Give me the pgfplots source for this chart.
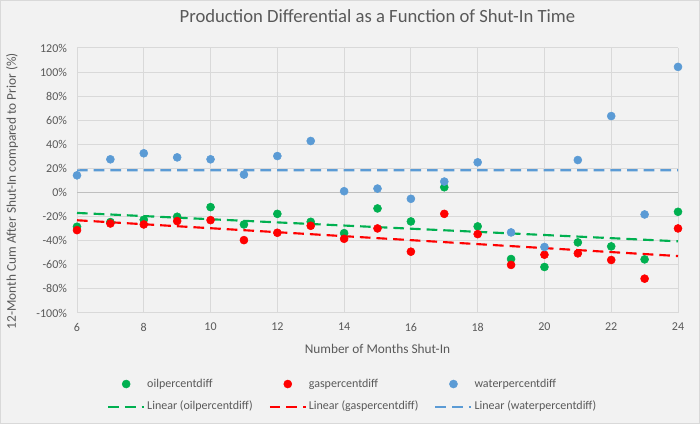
\documentclass[border=0pt]{standalone}
\usepackage{pgfplots}
\usepackage{pgfplotstable}
\pgfplotsset{compat=1.18}
\usepackage{fontspec}
\setmainfont{Carlito}
\definecolor{oilc}{HTML}{00B050}
\definecolor{gasc}{HTML}{FF0000}
\definecolor{waterc}{HTML}{5B9BD5}
\definecolor{txt}{HTML}{595959}
\definecolor{bg}{HTML}{F2F2F2}
\definecolor{gridc}{HTML}{D9D9D9}
\definecolor{zeroc}{HTML}{BFBFBF}

\pgfplotstableread{
x oil gas water
6 -28.4 -31.2 14.3
7 -24.5 -25.7 27.6
8 -22.6 -26.5 32.6
9 -20.1 -23.7 29.2
10 -12.1 -22.9 27.6
11 -26.5 -39.5 14.9
12 -17.7 -33.4 30.3
13 -24.3 -27.6 42.8
14 -33.7 -38.4 1.1
15 -13.2 -29.8 3.3
16 -24.0 -49.1 -5.2
17 4.4 -17.7 9.1
18 -28.1 -34.5 25.1
19 -55.2 -60.1 -33.1
20 -61.8 -51.6 -45.2
21 -41.4 -50.5 27.0
22 -44.7 -56.0 63.5
23 -55.5 -71.5 -18.2
24 -16.0 -29.8 104.3
}\data

\begin{document}
\begin{tikzpicture}
\fill[bg] (0,0) rectangle (525pt,318pt);
\draw[gridc] (0.5pt,0.5pt) rectangle (524.5pt,317.5pt);
\path[use as bounding box] (0,0) rectangle (525pt,318pt);
\begin{axis}[
  at={(57.75pt,83.25pt)}, anchor=south west,
  scale only axis, width=450.75pt, height=198.75pt,
  xmin=6, xmax=24, ymin=-100, ymax=120,
  xtick={6,8,...,24}, ytick={-100,-80,...,120},
  /pgf/number format/assume math mode=true,
  yticklabel={\pgfmathprintnumber{\tick}\%},
  axis line style={draw=none},
  major tick length=0pt,
  grid=major,
  major grid style={gridc, line width=0.75pt},
  ticklabel style={font=\fontsize{9}{11}\selectfont, text=txt},
  yticklabel style={xshift=-4pt},
  xticklabel style={yshift=-4pt},
  label style={font=\fontsize{10}{12}\selectfont, text=txt},
  title={Production Differential as a Function of Shut-In Time},
  title style={at={(axis description cs:0.5,1.09)}, anchor=center, font=\fontsize{14}{16}\selectfont, text=txt},
  xlabel={Number of Months Shut-In},
  xlabel style={at={(axis description cs:0.5,-0.1358)}, anchor=center},
  ylabel={12-Month Cum After Shut-In compared to Prior (\%)},
  ylabel style={at={(axis description cs:-0.1082,0.46)}, anchor=center, rotate=0},
  legend columns=3,
  legend cell align=left,
  legend style={at={(axis description cs:0.043,-0.311)}, anchor=west,
    draw=none, fill=none, font=\fontsize{9}{11}\selectfont, text=txt,
    /tikz/every even column/.append style={column sep=11.5pt},
    /tikz/every odd column/.append style={column sep=1pt},
    row sep=8pt, nodes={inner sep=0.5pt}},
  legend image code/.code={\draw[mark repeat=2,mark phase=2,#1] plot coordinates {(0pt,0pt) (13.5pt,0pt) (27pt,0pt)};},
  clip=false,
]
\draw[zeroc, line width=0.75pt] (axis cs:6,0) -- (axis cs:24,0);
\addplot[only marks, mark=*, mark size=3pt, color=oilc] table[x=x, y=oil]{\data};
\addlegendentry{oilpercentdiff}
\addplot[only marks, mark=*, mark size=3pt, color=gasc] table[x=x, y=gas]{\data};
\addlegendentry{gaspercentdiff}
\addplot[only marks, mark=*, mark size=3pt, color=waterc] table[x=x, y=water]{\data};
\addlegendentry{waterpercentdiff}
\addplot[no marks, color=oilc, line width=1.6pt, dash pattern=on 8pt off 4.5pt] table[x=x, y={create col/linear regression={y=oil}}]{\data};
\addlegendentry{Linear (oilpercentdiff)}
\addplot[no marks, color=gasc, line width=1.6pt, dash pattern=on 8pt off 4.5pt] table[x=x, y={create col/linear regression={y=gas}}]{\data};
\addlegendentry{Linear (gaspercentdiff)}
\addplot[no marks, color=waterc, line width=1.6pt, dash pattern=on 8pt off 4.5pt] table[x=x, y={create col/linear regression={y=water}}]{\data};
\addlegendentry{Linear (waterpercentdiff)}
\end{axis}
\end{tikzpicture}
\end{document}
